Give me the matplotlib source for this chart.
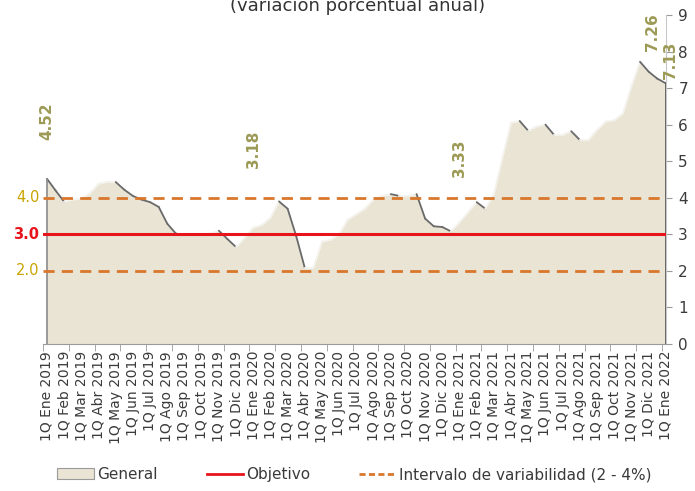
import matplotlib.pyplot as plt
import numpy as np
from matplotlib.patches import Patch
from matplotlib.lines import Line2D

# inflacion quincenal, 1Q Ene 2019 .. 1Q Ene 2022 (variacion % anual)
general = [4.52, 4.20, 3.89, 3.95, 3.97, 4.12, 4.38, 4.43, 4.43, 4.22,
           4.05, 3.95, 3.88, 3.75, 3.29, 3.02, 2.98, 2.99, 2.99, 3.02,
           3.10, 2.87, 2.65, 2.90, 3.18, 3.25, 3.45, 3.90, 3.70, 2.95,
           2.08, 2.08, 2.80, 2.85, 3.00, 3.40, 3.55, 3.70, 3.95, 4.05,
           4.10, 4.05, 4.05, 4.10, 3.43, 3.22, 3.20, 3.08, 3.33, 3.60,
           3.88, 3.70, 4.10, 5.10, 6.05, 6.10, 5.83, 5.95, 6.00, 5.72,
           5.72, 5.82, 5.58, 5.58, 5.85, 6.08, 6.12, 6.30, 7.05, 7.72,
           7.45, 7.26, 7.13]

meses = ['Ene', 'Feb', 'Mar', 'Abr', 'May', 'Jun', 'Jul', 'Ago', 'Sep', 'Oct', 'Nov', 'Dic']
etiquetas = ['1Q %s %d' % (m, y) for y in (2019, 2020, 2021) for m in meses] + ['1Q Ene 2022']

objetivo = 3.0
intervalo = [2.0, 4.0]

# data labels: (index, text, y position of label)
rotulos = [(0, '4.52', 6.1), (24, '3.18', 5.33), (48, '3.33', 5.08),
           (70.4, '7.26', 8.53), (72.5, '7.13', 7.75)]

beige = '#E9E4D4'
olive = '#9C9A55'
gold = '#C9A400'
red = '#E8141B'
orange = '#D9772B'
dark = '#3A3A3A'

fig = plt.figure(figsize=(6.95, 4.91), dpi=100)
ax = fig.add_axes([0.062, 0.2994, 0.896, 0.6701])

x = np.arange(len(general))
y = np.array(general)

ax.fill_between(x, 0, y, color=beige, lw=0, zorder=1)
# 3D-ish border: dark on falling edges, light on rising ones
for i in range(len(x) - 1):
    if y[i + 1] < y[i]:
        ax.plot(x[i:i + 2], y[i:i + 2], color='#6A6A6A', lw=1.3, zorder=2,
                solid_capstyle='round')
    else:
        ax.plot(x[i:i + 2], y[i:i + 2], color='#F4F2EC', lw=1.3, zorder=2)
ax.plot([x[0], x[0]], [0, y[0]], color='#8A8A8A', lw=1.2, zorder=2)
ax.plot([x[-1], x[-1]], [0, y[-1]], color='#555555', lw=2, zorder=2)

ax.axhline(objetivo, color=red, lw=2.2, zorder=3)
for v in intervalo:
    ax.axhline(v, color=orange, lw=2, ls=(0, (4, 2.6)), zorder=3)

for xi, t, yl in rotulos:
    ax.text(xi, yl, t, rotation=90, ha='center', va='center', color=olive,
            fontsize=11, fontweight='bold', zorder=4)

ax.text(-0.9, 4.0, '4.0', color=gold, fontsize=10.5, ha='right', va='center',
        clip_on=False)
ax.text(-0.9, 3.0, '3.0', color=red, fontsize=10.5, ha='right', va='center',
        fontweight='bold', clip_on=False)
ax.text(-0.9, 2.0, '2.0', color=gold, fontsize=10.5, ha='right', va='center',
        clip_on=False)

ax.set_xlim(0, len(general) - 1)
ax.set_ylim(0, 9)

ax.yaxis.tick_right()
ax.set_yticks(range(10))
ax.tick_params(axis='y', colors='#9A9A9A', labelcolor=dark, labelsize=11,
               length=4, pad=5)

ax.set_xticks(np.arange(0, len(general), 2))
ax.set_xticklabels(etiquetas, rotation=90, fontsize=10, color=dark)
ax.set_xticks(np.arange(0, len(general), 3) - 0.45, minor=True)
ax.tick_params(axis='x', which='major', length=0, pad=5)
ax.tick_params(axis='x', which='minor', length=5, color='#9A9A9A')

for s in ['top', 'left']:
    ax.spines[s].set_visible(False)
ax.spines['bottom'].set_color('#9A9A9A')
ax.spines['right'].set_color('#C8C8C8')

fig.text(0.514, 1 - 11 / 491, '(variación porcentual anual)', ha='center',
         va='baseline', fontsize=13, color='#333333')

handles = [Patch(facecolor=beige, edgecolor='#9A9A9A', lw=0.8),
           Line2D([], [], color=red, lw=2),
           Line2D([], [], color=orange, lw=2, ls=(0, (2.2, 1.2)))]
fig.legend(handles, ['General', 'Objetivo', 'Intervalo de variabilidad (2 - 4%)'],
           loc='lower center', bbox_to_anchor=(0.51, -0.01), ncol=3,
           frameon=False, fontsize=11, labelcolor=dark, handlelength=2.4,
           handletextpad=0.2, columnspacing=3.2)

fig.savefig('out.png', dpi=100)
